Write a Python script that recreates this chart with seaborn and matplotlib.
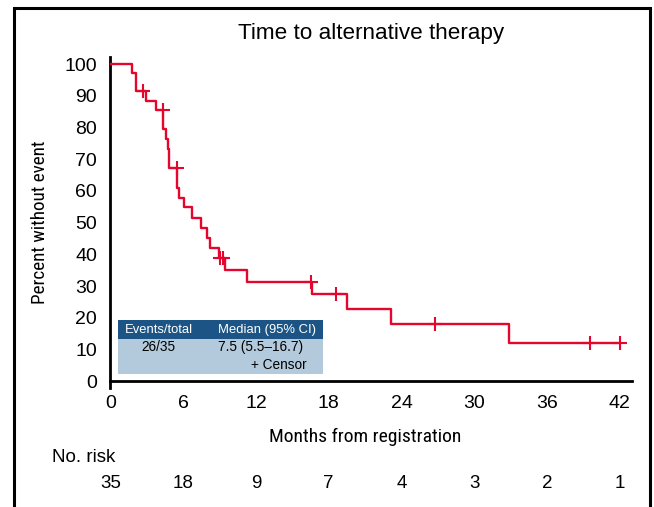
import numpy as np
import pandas as pd
import matplotlib
matplotlib.use("Agg")
import matplotlib.pyplot as plt
import matplotlib.patches as mpatches
import matplotlib.transforms as mtransforms
from matplotlib import font_manager
import seaborn as sns

# ---------------- data ----------------
step_time = [0, 1.75, 2.1, 2.15, 2.97, 3.74, 4.3, 4.6, 4.75, 4.83, 5.5, 5.66,
             6.07, 6.72, 7.5, 7.99, 8.18, 8.92, 9.41, 11.3, 16.6, 19.5, 23.1,
             32.9, 42.0]
survival = [100, 97.1, 94.3, 91.4, 88.5, 85.5, 79.4, 76.3, 73.3, 67.2, 61.0,
            57.9, 54.8, 51.6, 48.4, 45.2, 42.1, 38.9, 35.0, 31.3, 27.4, 22.8,
            18.2, 12.1, 12.1]
censor_time = [2.7, 4.3, 5.5, 9.0, 9.25, 16.5, 18.6, 26.8, 39.5, 42.0]

x_ticks = [0, 6, 12, 18, 24, 30, 36, 42]
y_ticks = [0, 10, 20, 30, 40, 50, 60, 70, 80, 90, 100]
risk_counts = [35, 18, 9, 7, 4, 3, 2, 1]

title = "Time to alternative therapy"
xlabel = "Months from registration"
ylabel = "Percent without event"
table_header = ["Events/total", "Median (95% CI)"]
table_row = ["26/35", "7.5 (5.5\u201316.7)"]

RED = "#E4062D"
NAVY = "#1C5585"
LIGHT = "#B2CADB"

# ---------------- style ----------------
sns.set_theme(style="white")
plt.rcParams["font.family"] = ["Liberation Sans", "DejaVu Sans"]
names = {f.name for f in font_manager.fontManager.ttflist}
lab_fam = "Liberation Sans"
for nm in ["Roboto Condensed", "Archivo Narrow", "Liberation Sans Narrow"]:
    if nm in names:
        lab_fam = nm
        break

W, H = 654, 507
fig = plt.figure(figsize=(W / 100, H / 100), dpi=100)
ax = fig.add_axes([110.4 / W, 1 - 387.8 / H, (632 - 110.4) / W, (387.8 - 56.7) / H])

surv_df = pd.DataFrame({"time": step_time, "surv": survival})
sns.lineplot(data=surv_df, x="time", y="surv", drawstyle="steps-post",
             estimator=None, color=RED, linewidth=1.7, ax=ax, zorder=3)

st = np.array(step_time)
sv = np.array(survival)
idx = np.searchsorted(st, censor_time, side="left") - 1
cens_df = pd.DataFrame({"time": censor_time, "surv": sv[idx]})
sns.scatterplot(data=cens_df, x="time", y="surv", marker="+", s=110,
                linewidth=1.5, color=RED, ax=ax, zorder=4)

ax.set_xlim(0, 43)
ax.set_ylim(-2, 102.3)
ax.set_xticks(x_ticks)
ax.set_yticks(y_ticks)
ax.spines["left"].set_position(("data", 0))
ax.spines["bottom"].set_position(("data", 0))
for s in ["top", "right"]:
    ax.spines[s].set_visible(False)
for s in ["left", "bottom"]:
    ax.spines[s].set_linewidth(2.0)
    ax.spines[s].set_color("black")
ax.tick_params(axis="both", direction="out", length=6, width=1.6,
               colors="black", labelsize=14, pad=3.5)
ax.set_xlabel("")
ax.set_ylabel("")

ax.text(-0.135, 0.5, ylabel, rotation=90, transform=ax.transAxes,
        ha="center", va="center", fontsize=13.8, family=lab_fam, color="black")
fig.text(365 / W, 1 - 437 / H, xlabel, ha="center", va="center",
         fontsize=14, family=lab_fam, color="black")

fig.text(371 / W, 1 - 33 / H, title, ha="center", va="center", fontsize=16.2,
         color="black")

ax.add_patch(mpatches.Rectangle((0.65, 13.29), 16.9, 6.08, facecolor=NAVY,
                                edgecolor="none", zorder=5))
ax.add_patch(mpatches.Rectangle((0.65, 2.36), 16.9, 10.93, facecolor=LIGHT,
                                edgecolor="none", zorder=5))
ax.text(4.0, 16.3, table_header[0], ha="center", va="center", fontsize=9.4,
        color="white", zorder=6)
ax.text(12.9, 16.3, table_header[1], ha="center", va="center", fontsize=9.4,
        color="white", zorder=6)
ax.text(4.0, 10.7, table_row[0], ha="center", va="center", fontsize=9.8,
        color="black", zorder=6)
ax.text(15.85, 10.7, table_row[1], ha="right", va="center", fontsize=9.8,
        color="black", zorder=6)
ax.text(16.2, 5.2, "+ Censor", ha="right", va="center", fontsize=9.8,
        color="black", zorder=6)

trans = mtransforms.blended_transform_factory(ax.transData, fig.transFigure)
fig.text(52 / W, 1 - 458 / H, "No. risk", ha="left", va="center", fontsize=13.5,
         color="black")
for t, n in zip(x_ticks, risk_counts):
    ax.text(t, 1 - 484 / H, str(n), transform=trans, ha="center", va="center",
            fontsize=13.5, color="black", clip_on=False)

fig.add_artist(mpatches.Rectangle((13.5 / W, -0.05), (650 - 13.5) / W,
                                  1.05 - 8 / H, transform=fig.transFigure,
                                  fill=False, edgecolor="black", linewidth=2.2))

fig.savefig("out.png", dpi=100)
